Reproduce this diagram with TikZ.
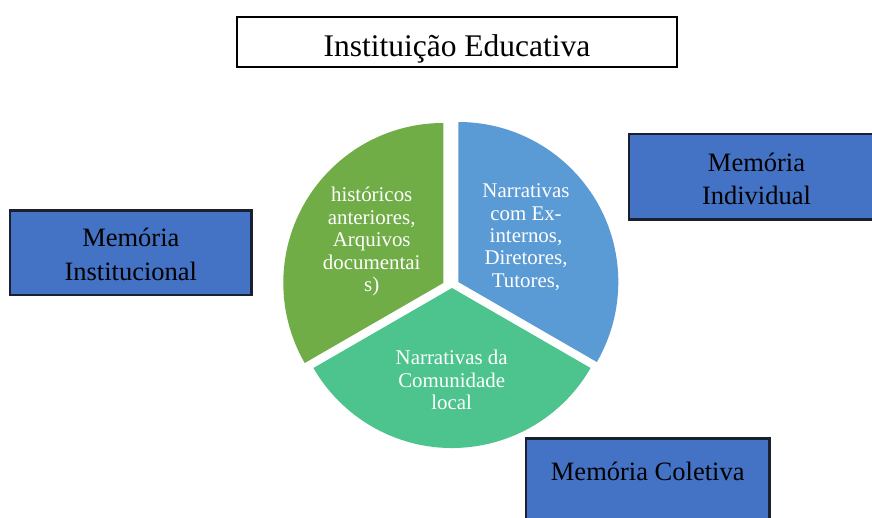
\documentclass[tikz,border=0pt]{standalone}
\usepackage{fontspec}
\setmainfont{Liberation Serif}
\definecolor{pgreen}{HTML}{70AD47}
\definecolor{pblue}{HTML}{5B9BD5}
\definecolor{pteal}{HTML}{4DC48D}
\definecolor{mbox}{HTML}{4472C4}
\definecolor{mline}{HTML}{1A2030}
\tikzset{
  membox/.style={draw=mline, line width=2.5pt, fill=mbox, inner sep=0pt},
  memtext/.style={align=center, inner sep=0pt, font=\fontsize{26.5}{33.3}\selectfont, text=black},
  slicetext/.style={align=center, inner sep=0pt, font=\fontsize{20.9}{22.4}\selectfont, text=white},
}
\begin{document}
\begin{tikzpicture}[x=1pt,y=1pt]
\useasboundingbox (0,0) rectangle (872,-518);
\clip (0,0) rectangle (872,-518);
\fill[white] (0,0) rectangle (872,-518);
% title
\node[draw=black, line width=2pt, minimum width=439.4pt, minimum height=50pt, inner sep=0pt] (tbox) at (457,-41.7) {};
\node[anchor=base, inner sep=0pt, font=\fontsize{31.5}{36}\selectfont] (ttext) at (457,-56.5) {Instituição Educativa};
% pie slices
\fill[pgreen] (443.3,-283) -- ++(90:160) arc[start angle=90, end angle=210, radius=160] -- cycle;
\fill[pblue] (458.3,-282) -- ++(90:160) arc[start angle=90, end angle=-30, radius=160] -- cycle;
\fill[pteal] (452,-288) -- ++(-30:160) arc[start angle=-30, end angle=-150, radius=160] -- cycle;
\node[slicetext] (gtext) at (371.7,-241.6) {históricos\\anteriores,\\Arquivos\\documentai\\s)};
\node[slicetext] (btext) at (526,-237.2) {Narrativas\\com Ex-\\internos,\\Diretores,\\Tutores,};
\node[slicetext] (ttext2) at (451.7,-380) {Narrativas da\\Comunidade\\local};
% memory boxes
\node[membox, minimum width=241.7pt, minimum height=84.3pt] (inst) at (130.85,-252.85) {};
\node[memtext] (instt) at (130.85,-254.5) {Memória\\Institucional};
\node[membox, minimum width=255pt, minimum height=85.3pt] (indiv) at (756.5,-176.65) {};
\node[memtext] (indivt) at (756.5,-179) {Memória\\Individual};
\node[membox, minimum width=243.3pt, minimum height=85pt] (colet) at (647.7,-480.8) {};
\node[memtext, anchor=base] (colett) at (647.7,-480) {Memória Coletiva};
\end{tikzpicture}
\end{document}
